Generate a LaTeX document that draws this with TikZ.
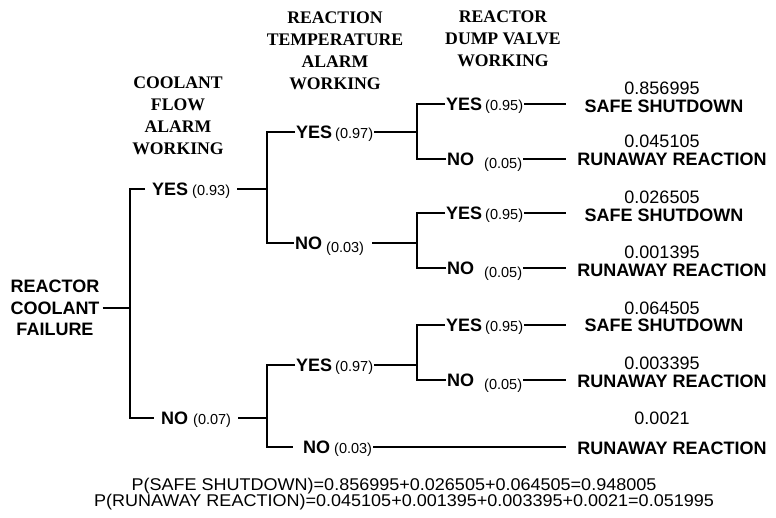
\documentclass[tikz,border=0pt]{standalone}
\usepackage{fontspec}
\usepackage{graphicx}
\setmainfont{Liberation Sans}
\newfontfamily\headfont{Liberation Serif}
\begin{document}
% probability in brackets, set smaller than the branch word
\newcommand\pr[1]{{\fontsize{14.5}{15}\selectfont(#1)}}
\newcommand\lowpr[1]{\raisebox{-3pt}{\pr{#1}}}
\begin{tikzpicture}[x=1pt,y=-1pt,
  wire/.style={line width=1.1pt},
  head/.style={font=\headfont\bfseries\fontsize{17.7}{22}\selectfont, align=center, inner sep=0pt},
  rootlbl/.style={font=\bfseries\fontsize{18}{21.5}\selectfont, align=center, inner xsep=3pt, inner ysep=0pt},
  branch/.style={font=\fontsize{18}{18}\selectfont, inner xsep=1pt, inner ysep=0pt,
                 text height=13pt, text depth=0pt, anchor=west},
  wide/.style={inner xsep=7pt},
  prob/.style={font=\fontsize{18}{18}\selectfont, inner sep=0pt, text height=13pt, text depth=0pt},
  outcome/.style={font=\bfseries\fontsize{18}{18}\selectfont, inner sep=0pt, text height=13pt, text depth=0pt},
  total/.style={font=\fontsize{17}{17}\selectfont, inner sep=0pt}]
\useasboundingbox (0,0) rectangle (776,518);

% columns of the branching points and end of the branch lines
\coordinate (c1) at (130,0);
\coordinate (c2) at (267,0);
\coordinate (c3) at (417,0);
\coordinate (c4) at (566,0);

% column headings
\node[head] (h1) at (178,116) {COOLANT\\FLOW\\ALARM\\WORKING};
\node[head] (h2) at (335,50.5) {REACTION\\TEMPERATURE\\ALARM\\WORKING};
\node[head] (h3) at (503,39) {REACTOR\\DUMP VALVE\\WORKING};

% initiating event
\node[rootlbl] (root) at (55,308) {REACTOR\\COOLANT\\FAILURE};

% first split: coolant flow alarm
\node[branch,wide] (a1) at (145,189) {\textbf{YES}\hspace{4pt}\pr{0.93}};
\node[branch,wide] (a2) at (154,418) {\textbf{NO}\hspace{5pt}\pr{0.07}};
\draw[wire] (root.east) -- (root.east -| c1);
\draw[wire] (a1.west) -| (c1 |- a2.west) -- (a2.west);
\draw[wire] (a1.east) -- (a1.east -| c2);
\draw[wire] (a2.east) -- (a2.east -| c2);

% second split: reaction temperature alarm
\node[branch] (b1) at (295,132) {\textbf{YES}\hspace{3pt}\pr{0.97}};
\node[branch] (b2) at (294,243) {\textbf{NO}\hspace{4pt}\lowpr{0.03}};
\node[branch] (b3) at (295,365) {\textbf{YES}\hspace{3pt}\pr{0.97}};
\node[branch] (b4) at (302,447) {\textbf{NO}\hspace{4pt}\pr{0.03}};
\draw[wire] (b1.west) -| (c2 |- b2.west) -- (b2.west);
\draw[wire] (b3.west) -| (c2 |- b4.west) -- ([xshift=-9pt]b4.west);
\draw[wire] (b1.east) -- (b1.east -| c3);
\draw[wire] ([xshift=7pt]b2.east) -- (b2.east -| c3);
\draw[wire] (b3.east) -- (b3.east -| c3);
\draw[wire] (b4.east) -- (b4.east -| c4);

% third split: reactor dump valve
\node[branch] (d1) at (445,104) {\textbf{YES}\hspace{3pt}\pr{0.95}};
\node[branch] (d2) at (446,159) {\textbf{NO}\hspace{10pt}\lowpr{0.05}};
\node[branch] (d3) at (445,213) {\textbf{YES}\hspace{3pt}\pr{0.95}};
\node[branch] (d4) at (446,268) {\textbf{NO}\hspace{10pt}\lowpr{0.05}};
\node[branch] (d5) at (445,325) {\textbf{YES}\hspace{3pt}\pr{0.95}};
\node[branch] (d6) at (446,380) {\textbf{NO}\hspace{10pt}\lowpr{0.05}};
\draw[wire] (d1.west) -| (c3 |- d2.west) -- (d2.west);
\draw[wire] (d3.west) -| (c3 |- d4.west) -- (d4.west);
\draw[wire] (d5.west) -| (c3 |- d6.west) -- (d6.west);
\foreach \n in {d1,d2,d3,d4,d5,d6}
  \draw[wire] (\n.east) -- (\n.east -| c4);

% outcomes with their probabilities
\node[prob]    (p1) at (662,88)  {0.856995};
\node[outcome] (o1) at (664,106) {SAFE SHUTDOWN};
\node[prob]    (p2) at (662,141) {0.045105};
\node[outcome] (o2) at (672,159) {RUNAWAY REACTION};
\node[prob]    (p3) at (662,197) {0.026505};
\node[outcome] (o3) at (664,215) {SAFE SHUTDOWN};
\node[prob]    (p4) at (662,252) {0.001395};
\node[outcome] (o4) at (672,270) {RUNAWAY REACTION};
\node[prob]    (p5) at (662,308) {0.064505};
\node[outcome] (o5) at (664,325) {SAFE SHUTDOWN};
\node[prob]    (p6) at (662,363) {0.003395};
\node[outcome] (o6) at (672,381) {RUNAWAY REACTION};
\node[prob]    (p7) at (662,418) {0.0021};
\node[outcome] (o7) at (672,448) {RUNAWAY REACTION};

% totals
\node[total] (t1) at (394,486) {\scalebox{1.06}[1]{P(SAFE SHUTDOWN)=0.856995+0.026505+0.064505=0.948005}};
\node[total] (t2) at (404,502.5) {\scalebox{1.06}[1]{P(RUNAWAY REACTION)=0.045105+0.001395+0.003395+0.0021=0.051995}};
\end{tikzpicture}
\end{document}
